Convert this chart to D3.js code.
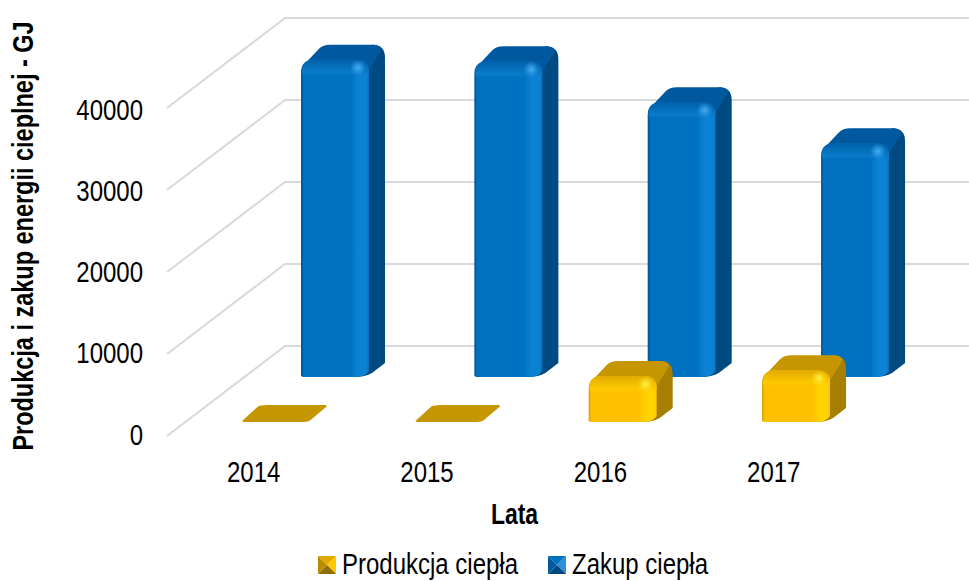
<!DOCTYPE html>
<html><head><meta charset="utf-8">
<script src="https://cdn.jsdelivr.net/npm/d3@7/dist/d3.min.js"></script>
<style>html,body{margin:0;padding:0;background:#fff}svg{display:block}text{font-family:"Liberation Sans",Arial,sans-serif;fill:#000}</style>
</head><body><div id="c"></div>
<script>
const years = ["2014","2015","2016","2017"];
const produkcja = [0, 0, 5600, 6300];
const zakup = [38700, 38500, 33500, 28500];
const yTicks = [0, 10000, 20000, 30000, 40000];
const seriesNames = ["Produkcja ciepła", "Zakup ciepła"];
const yTitle = "Produkcja i zakup energii cieplnej - GJ";
const xTitle = "Lata";

const W = 969, H = 581;
const svg = d3.select("#c").append("svg").attr("width", W).attr("height", H);
const y = d3.scaleLinear().domain([0, 40000]).range([436, 108]);
const yLab = d3.scaleLinear().domain([0, 40000]).range([444, 119]);
const x = d3.scaleBand().domain(years).range([167, 860.4]);
const wallDx = 118, wallDy = -90, depthDx = 16, depthDy = -15, barW = 68, r = 13;
const serOffset = { yellow: { x: 75, y: -14 }, blue: { x: 134, y: -59 } };

const pal = {
  blue: { side: "#004a82", top: "#00589f", main: "#0070c0", bev: "#0c82d4", edge: "#00528f", hi: "#46aef5", stripe: "#0060aa", lip: "#0a7bcb" },
  yellow: { side: "#a67e00", top: "#c59600", main: "#ffc000", bev: "#ffd200", edge: "#d29e00", hi: "#fff23c", stripe: "#e2aa00", lip: "#ffca00" }
};

const defs = svg.append("defs");
for (const k of Object.keys(pal)) {
  const p = pal[k];
  const g = defs.append("linearGradient").attr("id", "f-" + k);
  [[0, p.edge], [0.04, p.main], [0.72, p.main], [0.84, p.bev], [0.96, p.bev], [1, p.main]]
    .forEach(s => g.append("stop").attr("offset", s[0]).attr("stop-color", s[1]));
  const t = defs.append("linearGradient").attr("id", "t-" + k).attr("x2", 0).attr("y2", 1);
  t.append("stop").attr("offset", 0).attr("stop-color", p.stripe);
  t.append("stop").attr("offset", 0.8).attr("stop-color", p.lip);
  t.append("stop").attr("offset", 1).attr("stop-color", p.lip).attr("stop-opacity", 0);
  const h = defs.append("radialGradient").attr("id", "h-" + k);
  h.append("stop").attr("offset", 0).attr("stop-color", p.hi);
  h.append("stop").attr("offset", 0.35).attr("stop-color", p.hi).attr("stop-opacity", 0.6);
  h.append("stop").attr("offset", 1).attr("stop-color", p.hi).attr("stop-opacity", 0);
}

// grid
const grid = svg.append("g").attr("fill", "none").attr("stroke", "#d9d9d9").attr("stroke-width", 2);
yTicks.forEach(t => {
  const p = d3.path();
  p.moveTo(167, y(t)); p.lineTo(167 + wallDx, y(t) + wallDy); p.lineTo(W, y(t) + wallDy);
  grid.append("path").attr("d", p.toString());
});

function bar(year, value, kind) {
  const p = pal[kind], o = serOffset[kind];
  const x0 = x(year) + o.x, base = y(0) + o.y, top = base - (y(0) - y(value));
  const g = svg.append("g");
  const x1 = x0 + barW, dx = depthDx, dy = depthDy;
  if (value === 0) {
    const q = d3.path();
    q.moveTo(x0, base - 1);
    q.lineTo(x0 + dx, base + dy - 0.5);
    q.quadraticCurveTo(x0 + dx + 3, base + dy - 2, x0 + dx + 9, base + dy - 2);
    q.lineTo(x1 + dx - 1, base + dy - 2);
    q.quadraticCurveTo(x1 + dx + 2, base + dy - 1, x1 + dx, base + dy);
    q.lineTo(x1, base - 1.5);
    q.quadraticCurveTo(x1 - 3, base, x1 - 9, base);
    q.lineTo(x0 + 2, base);
    q.closePath();
    g.append("path").attr("d", q.toString()).attr("fill", p.top);
    return;
  }
  // side face
  const s = d3.path();
  s.moveTo(x1 - 14, base);
  s.quadraticCurveTo(x1 - 4, base, x1 + 3, base - 4);
  s.lineTo(x1 + dx, base + dy + 1);
  s.lineTo(x1 + dx, top + dy + r);
  s.quadraticCurveTo(x1 + dx, top + dy, x1 + dx - r, top + dy);
  s.lineTo(x1 - r, top + 2);
  s.closePath();
  g.append("path").attr("d", s.toString()).attr("fill", p.side);
  // top face
  const tp = d3.path();
  tp.moveTo(x0 + 2, top + 6);
  tp.lineTo(x0 + dx + 2, top + dy + 4);
  tp.quadraticCurveTo(x0 + dx + 6, top + dy, x0 + dx + 13, top + dy);
  tp.lineTo(x1 + dx - r + 2, top + dy);
  tp.quadraticCurveTo(x1 + dx - 3, top + dy + 1, x1 + dx - 4, top + dy + 6);
  tp.lineTo(x1, top + 10);
  tp.lineTo(x1 - r, top + 4);
  tp.closePath();
  g.append("path").attr("d", tp.toString()).attr("fill", p.top);
  // front face
  const f = d3.path();
  f.moveTo(x0, base - 1);
  f.lineTo(x0, top + r);
  f.quadraticCurveTo(x0, top, x0 + r, top);
  f.lineTo(x1 - r, top);
  f.quadraticCurveTo(x1, top, x1, top + r);
  f.lineTo(x1, base - 6);
  f.quadraticCurveTo(x1 - 4, base, x1 - 14, base);
  f.lineTo(x0 + 2, base);
  f.closePath();
  g.append("path").attr("d", f.toString()).attr("fill", `url(#f-${kind})`);
  // top bevel
  const b = d3.path();
  b.moveTo(x0 + 1, top + r + 3);
  b.lineTo(x0 + 1, top + r);
  b.quadraticCurveTo(x0 + 1, top, x0 + r, top);
  b.lineTo(x1 - r, top);
  b.quadraticCurveTo(x1, top, x1, top + r);
  b.lineTo(x1 - 11, top + r + 3);
  b.closePath();
  g.append("path").attr("d", b.toString()).attr("fill", `url(#t-${kind})`);
  // corner highlight
  g.append("ellipse").attr("cx", x1 - 11).attr("cy", top + 8)
    .attr("rx", 8).attr("ry", 8).attr("fill", `url(#h-${kind})`);
}

// back row first, then front row
years.forEach((yr, i) => bar(yr, zakup[i], "blue"));
years.forEach((yr, i) => bar(yr, produkcja[i], "yellow"));

const narrow = "scale(0.8,1)";
// y ticks
const axisY = svg.append("g").attr("transform", "translate(143,0)")
  .call(d3.axisLeft(yLab).tickValues(yTicks).tickFormat(d3.format("d")).tickSize(0).tickPadding(0));
axisY.select(".domain").remove();
axisY.selectAll("text").attr("x", 0).attr("dy", 0).attr("font-size", 30).attr("transform", narrow)
  .style("font-family", '"Liberation Sans",Arial,sans-serif');

// x labels
const axisX = svg.append("g").attr("transform", "translate(0,482)")
  .call(d3.axisBottom(x).tickSize(0).tickPadding(0));
axisX.select(".domain").remove();
axisX.selectAll("text").attr("y", 0).attr("dy", 0).attr("font-size", 30).attr("transform", narrow)
  .style("font-family", '"Liberation Sans",Arial,sans-serif');

svg.append("text").attr("transform", "translate(33,236) rotate(-90) scale(0.81,1)").attr("text-anchor", "middle")
  .attr("font-size", 29).attr("font-weight", "bold").text(yTitle);
svg.append("text").attr("transform", "translate(514.5,524) scale(0.79,1)").attr("text-anchor", "middle")
  .attr("font-size", 29).attr("font-weight", "bold").text(xTitle);

// legend
const keyColors = [
  { l: "#b88c00", t: "#e0aa00", r: "#ffc800", b: "#8f6d00" },
  { l: "#005a9e", t: "#0070c0", r: "#2a90dc", b: "#00497f" }
];
const legendX = [318, 548];
seriesNames.forEach((n, i) => {
  const g = svg.append("g").attr("transform", `translate(${legendX[i]},556)`);
  const s = 18, c = keyColors[i], m = [s / 2, s / 2];
  const tri = (a, b, col) => g.append("polygon").attr("points", [a, b, m].map(d => d.join(",")).join(" ")).attr("fill", col);
  tri([0, 0], [s, 0], c.t); tri([s, 0], [s, s], c.r); tri([s, s], [0, s], c.b); tri([0, s], [0, 0], c.l);
  svg.append("text").attr("transform", `translate(${legendX[i] + 24},574) scale(0.8,1)`).attr("font-size", 30).text(n);
});
</script></body></html>
